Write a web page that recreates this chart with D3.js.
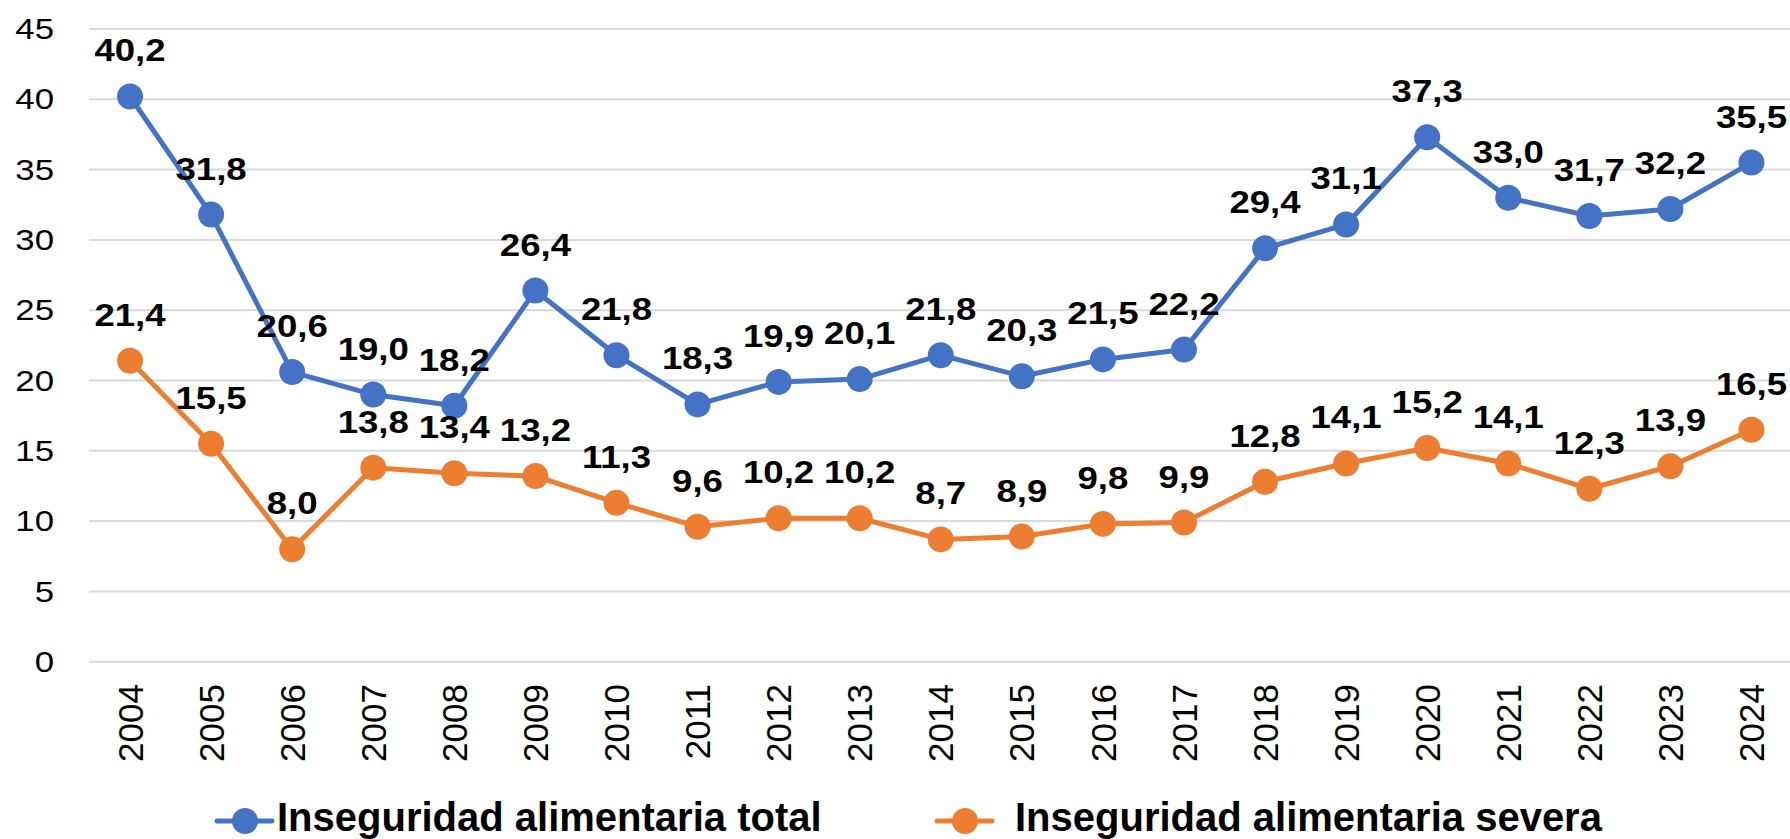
<!DOCTYPE html>
<html>
<head>
<meta charset="utf-8">
<script src="https://cdn.jsdelivr.net/npm/d3@7"></script>
<style>
  html, body { margin: 0; padding: 0; background: #fff; }
  svg { display: block; }
</style>
</head>
<body>
<svg id="chart" width="1790" height="839"></svg>
<script>
const years = ["2004","2005","2006","2007","2008","2009","2010","2011","2012","2013","2014",
               "2015","2016","2017","2018","2019","2020","2021","2022","2023","2024"];
const totalValues = [40.2, 31.8, 20.6, 19.0, 18.2, 26.4, 21.8, 18.3, 19.9, 20.1, 21.8,
                     20.3, 21.5, 22.2, 29.4, 31.1, 37.3, 33.0, 31.7, 32.2, 35.5];
const severeValues = [21.4, 15.5, 8.0, 13.8, 13.4, 13.2, 11.3, 9.6, 10.2, 10.2, 8.7,
                      8.9, 9.8, 9.9, 12.8, 14.1, 15.2, 14.1, 12.3, 13.9, 16.5];
const yTicks = [0, 5, 10, 15, 20, 25, 30, 35, 40, 45];
const seriesNames = ["Inseguridad alimentaria total", "Inseguridad alimentaria severa"];
const seriesColors = ["#4472C4", "#ED7D31"];

const svg = d3.select("#chart");
const fmt = v => v.toFixed(1).replace(".", ",");

const x = d3.scaleBand().domain(years).range([89.5, 1792]);
const y = d3.scaleLinear().domain([0, 45]).range([661.7, 29]);
const cx = d => x(d) + x.bandwidth() / 2;

// gridlines
svg.append("g").selectAll("line")
    .data(yTicks)
    .join("line")
    .attr("x1", 89).attr("x2", 1790)
    .attr("y1", d => y(d)).attr("y2", d => y(d))
    .attr("stroke", "#d9d9d9")
    .attr("stroke-width", 2);

// y tick labels
svg.append("g").selectAll("text")
    .data(yTicks)
    .join("text")
    .attr("transform", d => `translate(54,${y(d)}) scale(1.2,1)`)
    .attr("dy", "0.35em")
    .attr("text-anchor", "end")
    .style("font-family", "'Liberation Sans', Arial, sans-serif")
    .style("font-size", "29px")
    .attr("fill", "#000")
    .text(d => d);

// x tick labels, rotated
svg.append("g").selectAll("text")
    .data(years)
    .join("text")
    .attr("transform", d => `translate(${cx(d)},684) rotate(-90)`)
    .attr("dy", "0.36em")
    .attr("text-anchor", "end")
    .style("font-family", "'Liberation Sans', Arial, sans-serif")
    .style("font-size", "35px")
    .attr("fill", "#000")
    .text(d => d);

const series = [totalValues, severeValues];
const line = d3.line().x((d, i) => cx(years[i])).y(d => y(d));

series.forEach((vals, s) => {
    const g = svg.append("g");
    g.append("path")
        .datum(vals)
        .attr("d", line)
        .attr("fill", "none")
        .attr("stroke", seriesColors[s])
        .attr("stroke-width", 5)
        .attr("stroke-linejoin", "round");
    g.selectAll("circle")
        .data(vals)
        .join("circle")
        .attr("cx", (d, i) => cx(years[i]))
        .attr("cy", d => y(d))
        .attr("r", 13)
        .attr("fill", seriesColors[s]);
});

// data labels above the points
series.forEach(vals => {
    svg.append("g").selectAll("text")
        .data(vals)
        .join("text")
        .attr("transform", (d, i) => `translate(${cx(years[i])},${y(d) - 35}) scale(1.18,1)`)
        .attr("text-anchor", "middle")
        .style("font-family", "'Liberation Sans', Arial, sans-serif")
        .style("font-size", "31px")
        .style("font-weight", "bold")
        .attr("fill", "#000")
        .text(d => fmt(d));
});

// legend
const legendX = [217, 937];
const legendTextX = [277, 1015];
seriesNames.forEach((name, s) => {
    const g = svg.append("g");
    g.append("line")
        .attr("x1", legendX[s]).attr("x2", legendX[s] + 55)
        .attr("y1", 821).attr("y2", 821)
        .attr("stroke", seriesColors[s])
        .attr("stroke-width", 5)
        .attr("stroke-linecap", "round");
    g.append("circle")
        .attr("cx", legendX[s] + 28).attr("cy", 821)
        .attr("r", 13)
        .attr("fill", seriesColors[s]);
    g.append("text")
        .attr("x", legendTextX[s]).attr("y", 831)
        .style("font-family", "'Liberation Sans', Arial, sans-serif")
        .style("font-size", "40px")
        .style("font-weight", "bold")
        .attr("fill", "#000")
        .text(name);
});
</script>
</body>
</html>
